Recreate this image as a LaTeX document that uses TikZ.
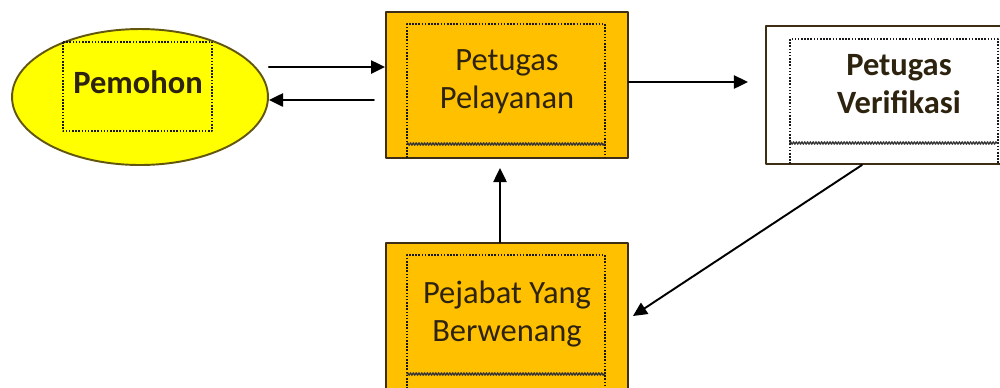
\documentclass[tikz,border=0pt]{standalone}
\usepackage{fontspec}
\setmainfont{Carlito}
\usepackage{tikz}
\usetikzlibrary{shapes.geometric}
\usetikzlibrary{arrows.meta}
\usetikzlibrary{decorations.pathmorphing}
\definecolor{kuning}{RGB}{255,255,0}
\definecolor{oranye}{RGB}{255,192,0}
\definecolor{garis}{RGB}{60,45,20}
\definecolor{tinta}{RGB}{45,35,15}
\tikzstyle{every node}=[font=\fontsize{18.5}{21.5}\selectfont,text=tinta]
\tikzstyle{kotak}=[draw=garis,line width=1.1pt,rectangle,minimum width=4.84cm,inner sep=0pt]
\tikzstyle{oval}=[draw=garis!80!kuning,line width=1.1pt,ellipse,fill=kuning,minimum width=5.12cm,minimum height=2.72cm,inner sep=0pt]
\tikzstyle{bingkai}=[line width=1pt,dash pattern=on 0.9pt off 0.9pt,line cap=butt,black!90]
\tikzstyle{gelombang}=[line width=0.7pt,black!80,decorate,decoration={zigzag,amplitude=0.7pt,segment length=1.6pt}]
\tikzstyle{panah}=[line width=1.1pt,-{Triangle[length=8pt,width=7.5pt]}]

\begin{document}
\begin{tikzpicture}[x=0.02cm,y=-0.02cm,line cap=round,line join=round]
\useasboundingbox (0,0) rectangle (1000,387);
\clip (0,0) rectangle (1000,387);

% kotak-kotak
\node[oval] (pem) at (140,97) {};
\node[kotak,fill=oranye,minimum height=2.92cm] (pel) at (507,85) {};
\node[kotak,fill=white,minimum height=2.76cm] (ver) at (887,95) {};
\node[kotak,fill=oranye,minimum height=2.92cm] (pej) at (507,316) {};

% bingkai teks
\draw[bingkai] (63,42) rectangle (212,131);
\draw[bingkai] (407,158)--(407,24)--(605,24)--(605,158);
\draw[gelombang] (407,144)--(605,144);
\draw[bingkai] (790,164)--(790,39)--(998,39)--(998,164);
\draw[gelombang] (790,143)--(998,143);
\draw[bingkai] (407,389)--(407,255)--(605,255)--(605,389);
\draw[gelombang] (407,374)--(605,374);

% teks
\node (tpem) at (138,82) {\textbf{Pemohon}};
\node[align=center] (tpel) at (507,82) {Petugas\\Pelayanan};
\node[align=center] (tver) at (899,84) {\textbf{Petugas}\\\textbf{Verifikasi}};
\node[align=center] (tpej) at (507,314) {Pejabat Yang\\Berwenang};

% panah
\coordinate (balik) at (374,100);
\coordinate (verin) at (748,82);
\draw[panah] ([yshift=0.6cm]pem.east) -- ([yshift=0.6cm]pem.east -| pel.west);
\draw[panah] (balik) -- (balik -| pem.east);
\draw[panah] (pel.east |- verin) -- (verin);
\draw[panah] ([xshift=-0.5cm]ver.south) -- ([xshift=0.08cm]pej.east);
\draw[panah,shorten >=0.18cm] ([xshift=-0.14cm]pej.north) -- ([xshift=-0.14cm]pel.south);
\end{tikzpicture}
\end{document}
